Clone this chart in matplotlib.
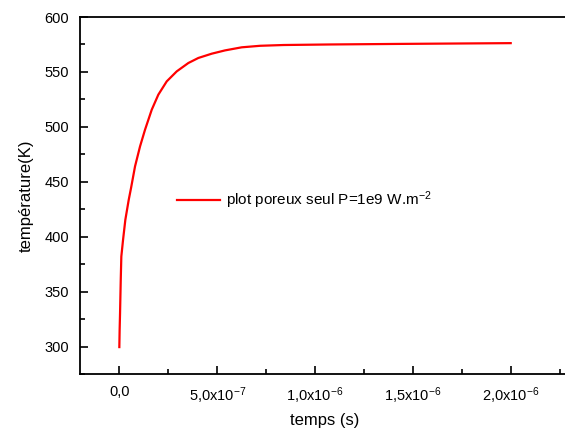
import matplotlib
matplotlib.use("Agg")
import matplotlib.pyplot as plt
from matplotlib.ticker import MultipleLocator

plt.rcParams['font.family'] = ['Liberation Sans', 'DejaVu Sans']
plt.rcParams['mathtext.fontset'] = 'custom'
plt.rcParams['mathtext.rm'] = 'Liberation Sans'
plt.rcParams['mathtext.it'] = 'Liberation Sans'

# data (time in s, temperature in K)
temps_s = [0.0, 1.5e-9, 3.6e-9, 7.2e-9, 1.02e-8, 1.89e-8, 3.07e-8, 4.8e-8, 5.98e-8,
           8.02e-8, 1.058e-7, 1.313e-7, 1.656e-7, 1.993e-7, 2.422e-7, 2.933e-7,
           3.526e-7, 4.037e-7, 4.722e-7, 5.401e-7, 6.254e-7, 7.2e-7, 8.4e-7,
           1.08e-6, 1.43e-6, 1.75e-6, 2.0e-6]
temperature_K = [299.5, 315.0, 330.0, 360.7, 382.0, 397.0, 415.4, 433.6, 444.3,
                 464.0, 482.2, 497.4, 515.6, 529.3, 541.4, 550.5,
                 558.1, 562.7, 566.6, 569.6, 572.4, 573.8, 574.5,
                 575.0, 575.5, 575.9, 576.2]

xtick_vals = [0.0, 5e-7, 1e-6, 1.5e-6, 2e-6]
xtick_labels = ['0,0', r'5,0x10$^{-7}$', r'1,0x10$^{-6}$', r'1,5x10$^{-6}$', r'2,0x10$^{-6}$']
ytick_vals = [300, 350, 400, 450, 500, 550, 600]
legend_label = r'plot poreux seul P=1e9 W.m$^{-2}$'

fig = plt.figure(figsize=(5.65, 4.28), dpi=100)
ax = fig.add_axes([80.2 / 565, 54 / 428, 489.2 / 565, 357 / 428])

ax.plot(temps_s, temperature_K, color='#ff0000', lw=1.6, label=legend_label,
        solid_joinstyle='round')

ax.set_xlim(-2.0e-7, 2.3e-6)
ax.set_ylim(275, 600)
ax.set_xticks(xtick_vals)
ax.set_xticklabels(xtick_labels)
ax.set_yticks(ytick_vals)
ax.xaxis.set_minor_locator(MultipleLocator(2.5e-7))
ax.yaxis.set_minor_locator(MultipleLocator(25))

ax.tick_params(which='both', direction='in', top=False, right=False, labelsize=10.5, width=1.2)
ax.tick_params(which='major', length=6, pad=8)
ax.tick_params(which='minor', length=3.5)
for s in ax.spines.values():
    s.set_linewidth(1.3)

ax.set_xlabel('temps (s)', fontsize=12, labelpad=5)
ax.set_ylabel('température(K)', fontsize=12, labelpad=8)

leg = ax.legend(loc='upper left', bbox_to_anchor=(0.17, 0.555), frameon=False,
                fontsize=11, handlelength=2.8, handletextpad=0.4)

fig.savefig('out.png', dpi=100)
